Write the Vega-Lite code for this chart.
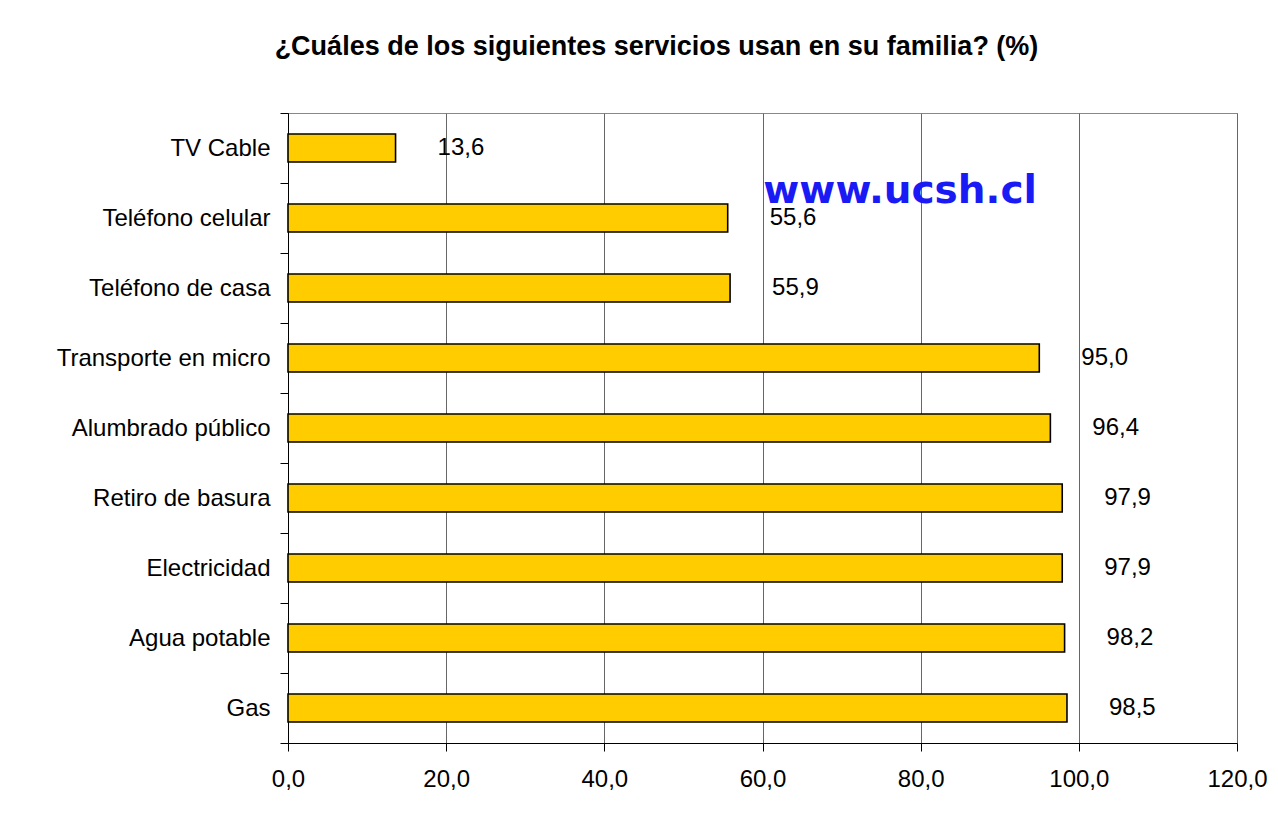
{
  "$schema": "https://vega.github.io/schema/vega-lite/v6.json",
  "width": 949,
  "height": 630,
  "autosize": {"type": "none"},
  "padding": {"left": 288, "top": 113, "right": 41, "bottom": 85},
  "background": "white",
  "config": {
    "locale": {"number": {"decimal": ",", "thousands": ".", "grouping": [3], "currency": ["$", ""]}},
    "font": "Liberation Sans",
    "view": {"stroke": "#888888", "strokeWidth": 1}
  },
  "title": {
    "text": "¿Cuáles de los siguientes servicios usan en su familia? (%)",
    "font": "Liberation Sans",
    "fontSize": 27,
    "fontWeight": "bold",
    "color": "#000000",
    "anchor": "middle",
    "dx": -106,
    "offset": 40
  },
  "data": {
    "values": [
      {"servicio": "TV Cable", "pct": 13.6},
      {"servicio": "Teléfono celular", "pct": 55.6},
      {"servicio": "Teléfono de casa", "pct": 55.9},
      {"servicio": "Transporte en micro", "pct": 95.0},
      {"servicio": "Alumbrado público", "pct": 96.4},
      {"servicio": "Retiro de basura", "pct": 97.9},
      {"servicio": "Electricidad", "pct": 97.9},
      {"servicio": "Agua potable", "pct": 98.2},
      {"servicio": "Gas", "pct": 98.5}
    ]
  },
  "encoding": {
    "y": {
      "field": "servicio",
      "type": "nominal",
      "sort": null,
      "scale": {"paddingInner": 0, "paddingOuter": 0},
      "axis": {
        "title": null,
        "domainColor": "#000000",
        "tickColor": "#000000",
        "tickSize": 8,
        "tickBand": "extent",
        "labelFontSize": 24,
        "labelLimit": 400,
        "labelColor": "#000000",
        "labelPadding": 10,
        "labelFont": "Liberation Sans",
        "grid": false
      }
    },
    "x": {
      "field": "pct",
      "type": "quantitative",
      "scale": {"domain": [0, 120], "nice": false},
      "axis": {
        "title": null,
        "values": [0, 20, 40, 60, 80, 100, 120],
        "format": ".1f",
        "labelFlush": false,
        "domainColor": "#000000",
        "tickColor": "#000000",
        "tickSize": 8,
        "labelFontSize": 24,
        "labelColor": "#000000",
        "labelPadding": 16,
        "labelFont": "Liberation Sans",
        "grid": true,
        "gridColor": "#666666",
        "gridOpacity": 1,
        "gridWidth": 1
      }
    }
  },
  "layer": [
    {
      "mark": {"type": "bar", "height": {"band": 0.4}, "fill": "#FFCC00", "stroke": "#000000", "strokeWidth": 1.6}
    },
    {
      "mark": {"type": "text", "align": "left", "baseline": "middle", "dx": 42, "fontSize": 24, "font": "Liberation Sans", "color": "#000000"},
      "encoding": {
        "text": {"field": "pct", "type": "quantitative", "format": ".1f"}
      }
    },
    {
      "transform": [{"filter": "datum.servicio === 'Teléfono celular'"}],
      "mark": {"type": "text", "align": "center", "baseline": "middle", "dy": -27, "fontSize": 39, "fontWeight": "bold", "font": "DejaVu Sans", "color": "#1A1AF5"},
      "encoding": {
        "x": {"datum": 77.4, "type": "quantitative"},
        "text": {"value": "www.ucsh.cl"}
      }
    }
  ]
}
